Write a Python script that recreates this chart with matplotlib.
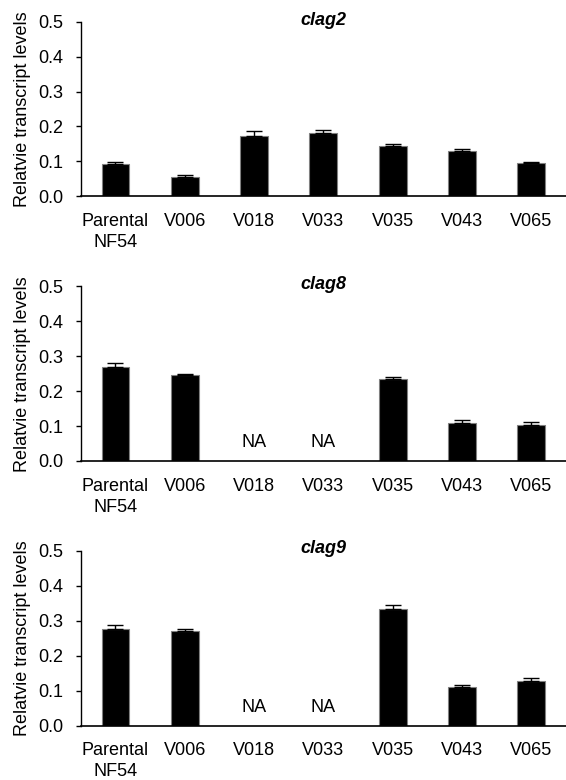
import numpy as np
import matplotlib
matplotlib.use("Agg")
import matplotlib.pyplot as plt

plt.rcParams['font.family'] = ['Liberation Sans', 'DejaVu Sans']

strains = ['Parental\nNF54', 'V006', 'V018', 'V033', 'V035', 'V043', 'V065']
genes = ['clag2', 'clag8', 'clag9']

# mean relative transcript levels, NaN = not available
clag2_mean = [0.093, 0.056, 0.173, 0.182, 0.145, 0.130, 0.094]
clag2_err = [0.004, 0.003, 0.014, 0.008, 0.005, 0.005, 0.004]
clag8_mean = [0.268, 0.245, np.nan, np.nan, 0.236, 0.108, 0.104]
clag8_err = [0.012, 0.003, 0.0, 0.0, 0.004, 0.009, 0.009]
clag9_mean = [0.275, 0.270, np.nan, np.nan, 0.332, 0.110, 0.127]
clag9_err = [0.012, 0.005, 0.0, 0.0, 0.012, 0.006, 0.010]

means = [clag2_mean, clag8_mean, clag9_mean]
errs = [clag2_err, clag8_err, clag9_err]

fig = plt.figure(figsize=(5.66, 7.8), dpi=100)

# axes rectangles [left, bottom, width, height] in figure fractions
boxes = [[0.1426, 0.7487, 0.8574, 0.2231],
         [0.1426, 0.4090, 0.8574, 0.2237],
         [0.1426, 0.0696, 0.8574, 0.2244]]

x = np.arange(len(strains))

for gene, m, e, box in zip(genes, means, errs, boxes):
    ax = fig.add_axes(box)
    m = np.array(m)
    e = np.array(e)
    ok = ~np.isnan(m)
    ax.bar(x[ok], m[ok], width=0.4, color='black', edgecolor='#808080', linewidth=0.8, zorder=2)
    ax.errorbar(x[ok], m[ok], yerr=[np.zeros(ok.sum()), e[ok]], fmt='none',
                ecolor='black', elinewidth=1, capsize=6, capthick=1, zorder=3)
    for i in x[~ok]:
        ax.text(i, 0.053, 'NA', ha='center', va='center', fontsize=13)

    ax.text(3, 0.505, gene, ha='center', va='center', fontsize=13,
            fontweight='bold', fontstyle='italic')

    ax.set_xlim(-0.5, 6.5)
    ax.set_ylim(0, 0.5)
    ax.set_yticks(np.arange(0, 0.51, 0.1))
    ax.set_yticklabels(['%.1f' % v for v in np.arange(0, 0.51, 0.1)])
    ax.set_xticks(x)
    ax.set_xticklabels(strains, linespacing=1.3)
    ax.tick_params(axis='x', length=0, pad=12, labelsize=13)
    ax.tick_params(axis='y', length=3.4, width=1, pad=9, labelsize=13, direction='out')
    ax.spines['top'].set_visible(False)
    ax.spines['right'].set_visible(False)
    ax.spines['left'].set_linewidth(1)
    ax.spines['bottom'].set_linewidth(1.2)
    ax.set_ylabel('Relatvie transcript levels', fontsize=13, labelpad=5)

fig.savefig('out.png', dpi=100)
